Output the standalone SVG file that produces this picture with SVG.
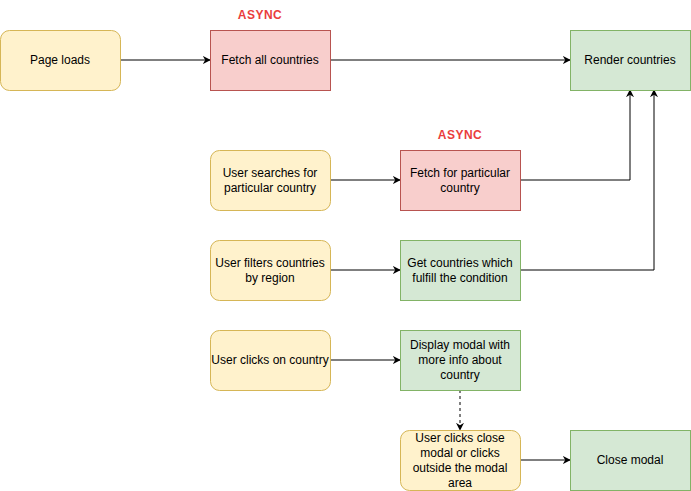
<svg xmlns="http://www.w3.org/2000/svg" width="691" height="491" viewBox="0 0 691 491">
<defs>
<marker id="arr" viewBox="0 0 10 10" refX="9" refY="5" markerWidth="8" markerHeight="8" markerUnits="userSpaceOnUse" orient="auto">
<path d="M0,0 L10,5 L0,10 L3,5 Z" fill="#000"/>
</marker>
<style>
.y{fill:#fff2cc;stroke:#d6b656;stroke-width:1}
.r{fill:#f8cecc;stroke:#b85450;stroke-width:1}
.g{fill:#d5e8d4;stroke:#82b366;stroke-width:1}
text{font-family:"Liberation Sans",Arial,sans-serif;font-size:12px;fill:#000;text-anchor:middle}
.async{font-weight:bold;fill:#ea3d3d;font-size:12px;letter-spacing:0.5px}
.c{fill:none;stroke:#000;stroke-width:1;marker-end:url(#arr)}
</style>
</defs>
<rect width="691" height="491" fill="#fff"/>
<g id="connectors">
<path class="c" d="M120,60 H210"/>
<path class="c" d="M330,60 H570"/>
<path class="c" d="M520,180 H630 V90"/>
<path class="c" d="M520,270 H654 V90"/>
<path class="c" d="M330,180 H400"/>
<path class="c" d="M330,270 H400"/>
<path class="c" d="M330,360 H400"/>
<path class="c" d="M460,390 V430" stroke-dasharray="3,3"/>
<path class="c" d="M520,460 H570"/>
</g>
<text class="async" x="260" y="19">ASYNC</text>
<text class="async" x="460" y="139">ASYNC</text>
<g id="page-loads"><rect class="y" x="0.5" y="30.5" width="120" height="60" rx="9"/><text x="60" y="64">Page loads</text></g>
<g id="fetch-all"><rect class="r" x="210.5" y="30.5" width="120" height="60"/><text x="270" y="64">Fetch all countries</text></g>
<g id="render"><rect class="g" x="570.5" y="30.5" width="120" height="60"/><text x="630" y="64">Render countries</text></g>
<g id="user-search"><rect class="y" x="210.5" y="150.5" width="120" height="60" rx="9"/><text x="270" y="177">User searches for</text><text x="270" y="192">particular country</text></g>
<g id="fetch-particular"><rect class="r" x="400.5" y="150.5" width="120" height="60"/><text x="460" y="177">Fetch for particular</text><text x="460" y="192">country</text></g>
<g id="user-filter"><rect class="y" x="210.5" y="240.5" width="120" height="60" rx="9"/><text x="270" y="267">User filters countries</text><text x="270" y="282">by region</text></g>
<g id="get-countries"><rect class="g" x="400.5" y="240.5" width="120" height="60"/><text x="460" y="267">Get countries which</text><text x="460" y="282">fulfill the condition</text></g>
<g id="user-click"><rect class="y" x="210.5" y="330.5" width="120" height="60" rx="9"/><text x="270" y="364">User clicks on country</text></g>
<g id="display-modal"><rect class="g" x="400.5" y="330.5" width="120" height="60"/><text x="460" y="349">Display modal with</text><text x="460" y="364">more info about</text><text x="460" y="379">country</text></g>
<g id="user-close"><rect class="y" x="400.5" y="430.5" width="120" height="60" rx="9"/><text x="460" y="442">User clicks close</text><text x="460" y="457">modal or clicks</text><text x="460" y="472">outside the modal</text><text x="460" y="487">area</text></g>
<g id="close-modal"><rect class="g" x="570.5" y="430.5" width="120" height="60"/><text x="630" y="464">Close modal</text></g>
</svg>
